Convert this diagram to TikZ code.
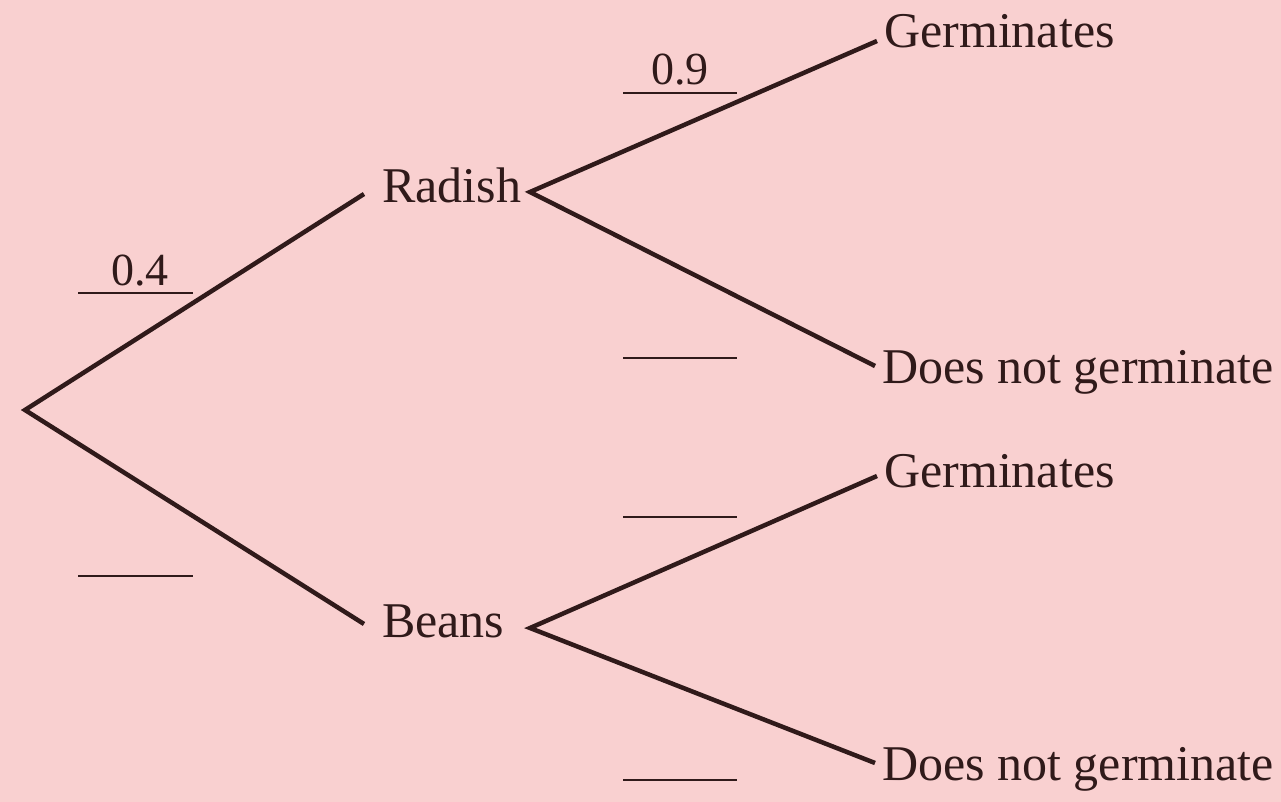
\documentclass[tikz,border=0pt]{standalone}
\usepackage{fontspec}
\setmainfont{Liberation Serif}
\definecolor{paper}{RGB}{249,208,208}
\definecolor{ink}{RGB}{48,26,26}
\begin{document}
\begin{tikzpicture}[x=1pt,y=-1pt,
  branch/.style={draw=ink,line width=4.5pt,line cap=butt,line join=miter},
  lab/.style={text=ink,inner sep=0pt,anchor=base west,font=\fontsize{50}{50}\selectfont},
  prob/.style={text=ink,inner sep=0pt,anchor=base,font=\fontsize{46}{46}\selectfont},
  blank/.style={draw=ink,line width=2.2pt}]
  % background
  \fill[paper] (0,0) rectangle (1281,802);
  \useasboundingbox (0,0) rectangle (1281,802);

  % labels of the outcomes
  \node[lab] (radish) at (382,203) {Radish};
  \node[lab] (beans)  at (382,637) {Beans};
  \node[lab] (g1) at (884,48)  {Germinates};
  \node[lab] (n1) at (882,383) {Does not germinate};
  \node[lab] (g2) at (884,487) {Germinates};
  \node[lab] (n2) at (882,780) {Does not germinate};

  % branch points and branch ends
  \coordinate (root) at (25,410);
  \coordinate (rIn)  at (364,194);
  \coordinate (bIn)  at (364,624);
  \coordinate (rOut) at (530,192);
  \coordinate (bOut) at (530,628);
  \coordinate (g1In) at (877,41);
  \coordinate (n1In) at (875,366);
  \coordinate (g2In) at (877,476);
  \coordinate (n2In) at (875,763);

  \draw[branch] (rIn) -- (root) -- (bIn);
  \draw[branch] (g1In) -- (rOut) -- (n1In);
  \draw[branch] (g2In) -- (bOut) -- (n2In);

  % probability blanks
  \coordinate (b04a) at (78,293);  \coordinate (b04b) at (193,293);
  \coordinate (b06a) at (78,576);  \coordinate (b06b) at (193,576);
  \coordinate (b09a) at (623,93);  \coordinate (b09b) at (737,93);
  \coordinate (b01a) at (623,358); \coordinate (b01b) at (737,358);
  \coordinate (bgaa) at (623,517); \coordinate (bgab) at (737,517);
  \coordinate (bgba) at (623,780); \coordinate (bgbb) at (737,780);
  \draw[blank] (b04a) -- (b04b);
  \draw[blank] (b06a) -- (b06b);
  \draw[blank] (b09a) -- (b09b);
  \draw[blank] (b01a) -- (b01b);
  \draw[blank] (bgaa) -- (bgab);
  \draw[blank] (bgba) -- (bgbb);

  \node[prob] (p04) at (140,285) {0.4};
  \node[prob] (p09) at (680,85)  {0.9};
\end{tikzpicture}
\end{document}
